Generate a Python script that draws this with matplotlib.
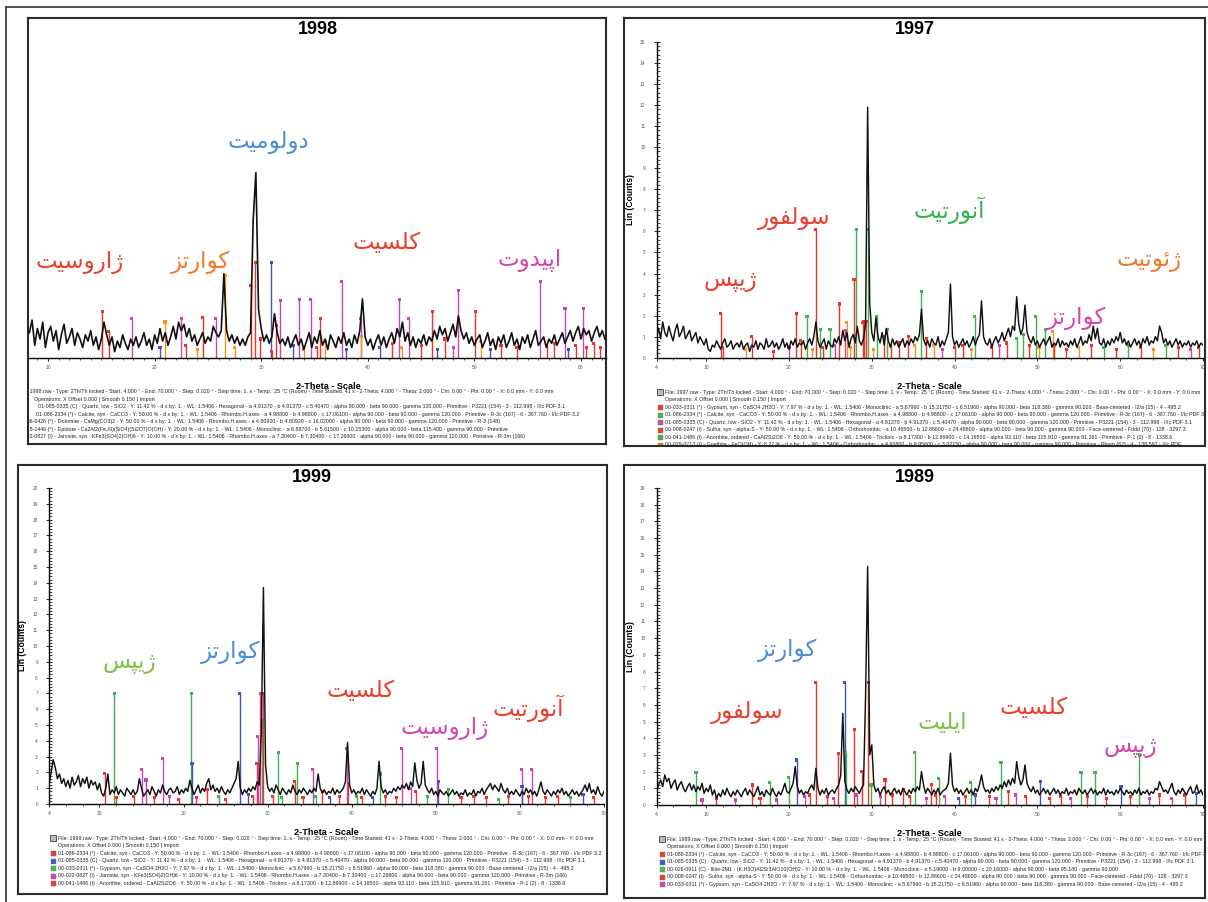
import numpy as np
import matplotlib.pyplot as plt
from matplotlib.lines import Line2D
from matplotlib.ticker import MultipleLocator, AutoMinorLocator, FixedLocator

plt.rcParams['font.family'] = ['Liberation Sans', 'DejaVu Sans']

W, H = 1208, 902

# ---------------- data ----------------
years = ["1998", "1997", "1999", "1989"]
scan_step = 0.25
scan_start = {"1998": 8.25, "1997": 4.0, "1999": 4.0, "1989": 4.0}

counts_1998 = [
    1.2, 1.8, 0.6, 1.4, 0.9, 1.7, 0.5, 1.2, 1.5, 0.8, 1.3, 0.4, 1.1, 1.6, 0.7, 1.0, 1.4, 0.6, 1.2, 0.9,
    0.5, 1.1, 0.8, 1.3, 0.6, 1.0, 0.4, 0.9, 1.7, 1.1, 0.6, 1.0, 0.3, 0.8, 0.5, 1.1, 0.7, 0.4, 0.9, 0.6,
    1.0, 0.5, 0.8, 1.2, 0.6, 0.9, 0.4, 1.1, 0.7, 1.4, 0.8, 1.2, 0.6, 1.0, 1.5, 0.9, 1.7, 1.3, 1.6, 1.0,
    1.4, 0.8, 1.1, 0.6, 0.9, 1.2, 0.7, 1.0, 0.8, 1.5, 1.2, 1.0, 1.3, 4.0, 1.3, 0.8, 1.1, 0.7, 1.0, 0.6,
    0.9, 0.6, 1.0, 1.2, 6.6, 8.8, 2.3, 1.4, 0.8, 1.1, 0.7, 1.0, 2.1, 1.2, 0.7, 0.9, 0.6, 1.0, 0.5, 0.8,
    1.1, 0.6, 0.9, 0.4, 0.8, 1.2, 0.5, 1.0, 0.7, 1.3, 0.6, 0.9, 0.4, 1.1, 0.8, 0.5, 1.0, 0.7, 1.2, 0.6,
    0.9, 0.5, 1.1, 0.7, 1.3, 2.8, 1.0, 0.6, 0.9, 0.4, 0.8, 1.1, 0.6, 1.0, 0.5, 0.9, 1.2, 0.7, 1.4, 1.0,
    1.7, 0.8, 1.2, 0.6, 1.0, 0.5, 0.9, 0.7, 1.1, 0.6, 1.0, 0.8, 1.3, 0.9, 1.5, 1.1, 1.4, 0.8, 1.2, 1.6,
    1.0, 2.0, 1.3, 0.9, 1.2, 0.7, 1.0, 0.6, 0.9, 1.1, 0.5, 0.8, 1.2, 0.6, 0.9, 0.4, 1.0, 0.7, 1.1, 0.5,
    0.8, 1.2, 0.6, 0.9, 0.4, 1.0, 0.7, 1.1, 0.5, 0.9, 1.3, 0.6, 0.8, 1.0, 0.5, 0.9, 0.7, 1.1, 0.6, 0.9,
    1.2, 0.7, 1.0, 1.3, 0.8, 1.2, 1.5, 0.9, 1.4, 1.1, 1.3, 0.8, 1.2, 1.5, 1.0, 1.3, 0.9,
]

counts_1997 = [
    1.1, 1.4, 0.9, 1.7, 1.2, 1.0, 1.5, 1.1, 0.8, 1.3, 1.6, 1.0, 1.2, 1.5, 0.9, 1.1, 1.3, 0.8, 1.0, 1.2,
    0.7, 1.0, 0.8, 0.6, 0.9, 0.4, 0.3, 0.6, 0.5, 0.8, 0.6, 0.4, 0.7, 0.9, 0.5, 0.6, 0.8, 0.4, 0.6, 0.7,
    0.5, 0.8, 0.4, 0.6, 0.7, 0.3, 0.6, 0.5, 0.8, 0.4, 0.7, 0.6, 0.4, 0.9, 0.5, 0.6, 0.8, 0.5, 0.7, 0.4,
    0.6, 0.9, 0.5, 0.7, 0.4, 0.8, 0.6, 0.9, 0.5, 0.7, 0.6, 0.8, 0.4, 0.7, 0.9, 0.6, 1.0, 1.7, 0.8, 0.5,
    0.7, 0.9, 0.4, 0.8, 0.6, 0.5, 0.9, 0.7, 1.0, 0.6, 1.3, 0.8, 1.2, 0.5, 0.9, 1.1, 0.7, 1.5, 0.8, 0.6,
    0.9, 1.6, 11.9, 2.6, 1.2, 0.8, 1.9, 1.0, 0.7, 1.2, 0.6, 1.4, 0.8, 0.5, 0.9, 0.6, 0.8, 0.5, 0.7, 0.9,
    0.5, 0.8, 0.6, 0.9, 0.7, 1.0, 0.8, 1.1, 2.3, 0.9, 0.6, 0.8, 0.5, 0.9, 0.7, 0.6, 1.0, 0.5, 0.8, 0.6,
    0.9, 1.2, 3.5, 1.0, 0.6, 0.8, 0.5, 0.7, 0.9, 0.6, 0.8, 0.5, 0.7, 1.0, 0.6, 0.9, 1.1, 2.7, 1.0, 0.7,
    0.6, 0.9, 0.5, 0.8, 1.0, 0.7, 0.9, 1.2, 0.8, 1.1, 1.4, 1.0, 1.5, 1.3, 2.9, 1.6, 1.1, 1.4, 2.5, 1.2,
    0.9, 0.7, 1.0, 0.6, 0.8, 0.5, 0.7, 0.9, 0.6, 0.8, 1.0, 0.5, 0.7, 0.6, 0.9, 0.5, 0.8, 0.6, 0.7, 0.5,
    0.8, 0.6, 0.9, 0.5, 0.7, 1.0, 0.6, 0.8, 0.7, 1.1, 0.8, 1.5, 0.9, 1.4, 0.7, 0.6, 0.9, 0.5, 0.8, 0.6,
    0.9, 0.7, 1.0, 0.8, 1.2, 0.7, 0.9, 0.6, 0.8, 0.5, 0.7, 0.9, 0.6, 0.8, 0.5, 0.9, 0.7, 1.0, 0.6, 0.8,
    0.7, 1.0, 0.8, 1.5, 1.2, 0.7, 0.9, 0.6, 0.8, 0.5, 0.7, 0.9, 0.6, 0.8, 0.5, 0.7, 0.6, 0.8, 0.5, 0.7,
    0.6, 0.8, 0.5, 0.7, 0.6,
]

counts_1999 = [
    1.2, 2.0, 2.8, 2.3, 1.6, 1.9, 1.3, 1.6, 1.1, 1.5, 1.0, 1.7, 1.2, 1.4, 1.8, 1.1, 1.6, 1.3, 1.7, 1.0,
    1.5, 1.2, 1.4, 0.9, 1.3, 0.7, 0.5, 1.0, 1.9, 0.6, 0.9, 0.7, 1.1, 0.6, 0.9, 0.7, 0.5, 1.0, 0.8, 0.6,
    0.9, 0.6, 0.8, 1.6, 1.0, 0.5, 0.7, 0.9, 0.6, 1.1, 0.8, 0.5, 0.9, 0.7, 1.2, 0.8, 0.6, 0.9, 1.0, 0.7,
    0.8, 1.1, 0.6, 0.9, 0.7, 1.0, 0.8, 1.5, 1.0, 0.6, 0.9, 1.2, 0.7, 1.0, 0.8, 1.3, 1.6, 0.9, 1.2, 0.8,
    1.0, 0.7, 1.1, 0.8, 0.6, 0.9, 0.7, 1.0, 1.3, 1.6, 2.7, 1.0, 0.6, 0.9, 0.7, 1.0, 0.8, 1.1, 0.9, 1.4,
    1.2, 4.5, 13.7, 2.5, 1.1, 0.8, 1.0, 0.7, 1.2, 0.9, 0.6, 1.0, 0.8, 0.6, 0.9, 0.7, 1.2, 0.8, 0.6, 0.9,
    0.7, 1.0, 0.8, 0.6, 0.9, 0.7, 1.0, 0.8, 1.9, 1.0, 0.7, 0.9, 0.6, 0.8, 0.7, 1.0, 0.6, 0.9, 0.7, 0.8,
    1.0, 1.4, 3.9, 1.2, 0.7, 0.9, 0.6, 0.8, 0.7, 1.0, 0.6, 0.9, 0.7, 0.5, 0.8, 0.6, 1.0, 2.7, 1.1, 0.7,
    0.9, 0.6, 0.8, 0.7, 1.0, 0.8, 1.1, 0.9, 1.2, 1.0, 1.3, 0.9, 1.4, 1.1, 2.6, 1.5, 1.0, 1.3, 2.7, 1.2,
    0.9, 0.7, 1.0, 0.6, 0.8, 0.5, 0.9, 0.7, 0.6, 0.8, 0.5, 0.7, 0.9, 0.6, 0.8, 0.5, 0.7, 0.6, 0.9, 0.5,
    0.7, 0.6, 0.9, 0.5, 0.8, 0.7, 1.0, 0.6, 0.9, 1.1, 1.3, 0.9, 1.2, 1.0, 0.8, 1.3, 0.9, 0.7, 1.0, 0.6,
    0.8, 0.6, 0.9, 0.7, 0.5, 0.8, 0.6, 1.0, 0.7, 0.9, 0.6, 0.8, 0.5, 0.9, 1.4, 0.8, 0.6, 0.9, 0.7, 0.5,
    0.8, 0.6, 0.9, 0.7, 1.0, 0.6, 0.8, 0.5, 0.7, 0.9, 0.6, 0.8, 0.5, 0.7, 0.9, 1.2, 0.8, 1.3, 0.7, 0.9,
    0.6, 1.1, 0.7, 0.5, 0.8,
]

counts_1989 = [
    0.8, 1.2, 1.5, 1.1, 1.8, 1.4, 1.6, 1.0, 1.3, 1.5, 0.9, 1.2, 1.4, 1.0, 0.8, 1.1, 1.3, 0.9, 1.2, 0.8,
    1.1, 0.9, 1.3, 0.7, 1.0, 0.8, 1.2, 0.6, 0.9, 0.4, 0.7, 0.5, 0.9, 0.6, 1.0, 0.7, 0.5, 0.8, 0.6, 0.9,
    0.7, 0.5, 0.8, 1.0, 0.6, 0.9, 0.7, 0.5, 0.8, 1.1, 0.6, 0.8, 0.5, 0.9, 0.7, 0.6, 1.0, 0.7, 0.5, 0.8,
    0.6, 0.9, 1.3, 0.8, 0.7, 1.0, 1.3, 2.3, 1.1, 0.7, 0.9, 0.6, 0.8, 0.7, 1.0, 1.2, 0.9, 2.2, 1.0, 0.6,
    0.9, 0.7, 1.0, 0.6, 0.8, 0.9, 0.7, 1.0, 1.2, 1.8, 5.5, 1.4, 0.9, 0.7, 1.0, 0.8, 1.1, 0.9, 0.7, 1.0,
    1.2, 6.5, 14.3, 3.0, 3.6, 1.2, 0.8, 1.0, 0.6, 0.9, 1.1, 0.7, 0.9, 0.6, 0.8, 1.0, 0.7, 0.9, 0.6, 1.0,
    0.8, 0.6, 0.9, 0.7, 1.0, 0.8, 1.1, 0.9, 2.0, 1.2, 0.7, 1.0, 0.8, 0.6, 0.9, 0.7, 1.0, 0.6, 0.8, 0.9,
    1.0, 1.3, 3.1, 1.2, 0.8, 1.0, 0.7, 0.9, 0.6, 0.8, 1.0, 0.7, 0.9, 0.6, 1.0, 0.8, 1.2, 1.8, 1.1, 0.8,
    0.9, 0.7, 1.0, 0.8, 1.1, 0.9, 1.2, 1.0, 1.4, 1.1, 1.5, 1.2, 1.6, 1.3, 2.6, 1.7, 1.2, 1.5, 2.4, 1.3,
    1.0, 0.8, 1.1, 0.7, 0.9, 0.6, 0.8, 1.0, 0.7, 0.9, 0.6, 0.8, 1.0, 0.7, 0.9, 0.6, 0.8, 0.7, 1.0, 0.6,
    0.8, 0.7, 0.9, 0.6, 1.0, 0.8, 0.7, 0.9, 0.6, 0.8, 1.0, 0.7, 0.9, 0.6, 0.8, 0.7, 1.0, 0.6, 0.9, 0.7,
    0.8, 0.6, 0.9, 0.7, 1.0, 0.8, 0.6, 0.9, 0.7, 0.8, 0.6, 0.9, 0.7, 1.0, 0.6, 0.8, 0.7, 0.9, 0.6, 0.8,
    0.7, 1.0, 0.9, 1.4, 1.1, 0.8, 0.9, 0.7, 1.0, 1.3, 0.8, 0.6, 0.9, 0.7, 1.0, 0.8, 0.6, 0.9, 1.1, 0.7,
    0.8, 1.2, 0.7, 0.9, 0.6,
]

# reference-pattern sticks: 2-theta, relative height, phase colour key
sticks_1998_pos = [15.07, 15.7, 17.86, 20.5, 20.97, 22.49, 22.9, 24.0, 24.5, 25.74, 26.65, 27.5, 29.0, 29.44,
                   29.9, 30.96, 31.0, 31.4, 31.8, 33.0, 33.57, 34.0, 34.63, 35.2, 35.55, 36.0, 37.56, 38.0,
                   39.33, 39.4, 41.1, 42.3, 42.97, 43.2, 43.85, 45.0, 46.04, 46.5, 47.2, 48.0, 48.51, 50.1,
                   50.6, 51.5, 52.5, 54.0, 56.2, 56.8, 57.5, 58.5, 58.8, 59.5, 60.23, 60.5, 61.2, 61.8]
sticks_1998_h = [2.19, 1.27, 1.87, 0.5, 1.71, 1.87, 0.6, 0.4, 1.92, 1.87, 3.9, 0.5, 3.46, 4.54,
                 0.9, 4.54, 0.3, 1.56, 2.75, 0.6, 2.78, 0.4, 2.78, 0.5, 1.87, 0.8, 3.62, 0.4,
                 1.87, 1.0, 0.5, 0.7, 2.78, 0.5, 1.87, 0.6, 2.19, 0.4, 0.9, 0.5, 3.22, 2.19,
                 0.8, 0.4, 0.6, 0.5, 3.62, 0.6, 0.7, 2.35, 0.4, 0.6, 2.35, 0.5, 0.7, 0.5]
sticks_1998_ph = ["r", "r", "m", "b", "o", "m", "r", "o", "r", "m", "o", "o", "r", "r",
                  "r", "b", "r", "r", "m", "b", "m", "o", "m", "r", "r", "o", "m", "b",
                  "m", "o", "b", "r", "m", "o", "m", "r", "r", "b", "r", "m", "m", "r",
                  "o", "b", "r", "r", "m", "r", "r", "m", "b", "r", "m", "r", "r", "r"]

sticks_1997_pos = [11.77, 12.0, 14.8, 15.5, 18.1, 20.0, 20.86, 21.4, 22.18, 22.8, 23.23, 23.8, 24.1, 24.95,
                   25.5, 26.09, 26.8, 27.0, 27.4, 27.85, 28.1, 28.9, 29.0, 29.3, 29.5, 30.2, 30.6, 31.5,
                   31.86, 32.3, 33.3, 34.4, 35.2, 35.95, 36.6, 37.5, 38.5, 40.0, 41.0, 42.0, 42.45, 44.5,
                   45.4, 46.3, 47.5, 48.3, 49.0, 49.8, 50.2, 50.95, 51.86, 52.0, 53.5, 55.0, 56.5, 58.0,
                   59.5, 61.0, 62.5, 64.0, 65.5, 67.0, 68.5, 69.5]
sticks_1997_h = [2.11, 0.5, 0.4, 1.0, 0.3, 0.5, 2.11, 0.8, 1.95, 0.4, 6.1, 1.35, 0.5, 1.35,
                 0.6, 2.55, 1.3, 1.66, 0.5, 3.73, 6.1, 1.66, 1.7, 1.7, 6.1, 0.4, 1.95, 1.0,
                 1.35, 0.6, 0.7, 1.0, 0.6, 3.14, 0.9, 0.6, 0.4, 0.5, 0.6, 0.4, 1.95, 0.5,
                 0.6, 0.7, 0.9, 1.1, 0.6, 1.95, 0.5, 1.35, 1.24, 0.6, 0.4, 0.5, 0.6, 0.5,
                 0.4, 0.6, 0.5, 0.4, 0.6, 0.5, 0.4, 0.5]
sticks_1997_ph = ["r", "r", "o", "r", "r", "m", "r", "r", "g", "o", "r", "g", "r", "g",
                  "m", "r", "m", "o", "o", "r", "g", "r", "r", "r", "g", "o", "g", "r",
                  "g", "r", "r", "r", "o", "g", "r", "o", "m", "r", "r", "o", "g", "r",
                  "m", "r", "g", "g", "r", "g", "o", "g", "o", "r", "r", "o", "r", "g",
                  "r", "g", "r", "o", "g", "r", "m", "r"]

sticks_1999_pos = [10.62, 11.74, 12.0, 14.1, 15.0, 15.54, 16.5, 17.55, 18.3, 19.4, 20.91, 21.0, 21.5, 22.8,
                   24.2, 25.0, 26.7, 27.7, 28.2, 28.74, 28.8, 29.1, 29.28, 29.45, 30.6, 31.25, 31.7, 33.2,
                   33.53, 34.2, 35.36, 35.7, 36.5, 37.4, 38.5, 39.39, 39.6, 40.6, 41.2, 42.5, 43.4, 44.0,
                   45.3, 45.96, 47.0, 47.6, 49.0, 50.13, 50.3, 51.5, 53.0, 54.5, 56.0, 57.5, 58.6, 60.2,
                   60.25, 61.0, 61.4, 63.0, 64.5, 66.0, 67.5, 68.8]
sticks_1999_h = [1.94, 7.0, 0.4, 0.5, 2.2, 1.52, 0.4, 2.9, 0.5, 0.3, 7.0, 2.58, 0.4, 0.9,
                 0.5, 0.3, 7.0, 0.6, 0.5, 2.58, 4.27, 7.0, 5.28, 7.0, 0.5, 3.25, 0.4, 1.4,
                 2.58, 0.4, 2.2, 0.5, 0.8, 0.4, 0.5, 3.53, 1.3, 0.5, 0.4, 0.4, 1.9, 0.5,
                 0.4, 3.53, 1.0, 0.8, 0.5, 3.53, 1.4, 0.9, 0.4, 0.5, 0.4, 0.3, 0.5, 2.2,
                 1.1, 0.5, 2.2, 0.4, 0.5, 0.4, 0.6, 0.4]
sticks_1999_ph = ["r", "g", "r", "r", "m", "m", "r", "m", "m", "r", "g", "b", "r", "r",
                  "g", "r", "b", "b", "r", "r", "m", "m", "g", "r", "r", "g", "g", "r",
                  "g", "r", "m", "g", "r", "b", "r", "m", "r", "g", "r", "b", "g", "r",
                  "r", "m", "m", "r", "g", "m", "b", "g", "r", "r", "r", "g", "r", "m",
                  "b", "r", "m", "r", "r", "g", "b", "r"]

sticks_1989_pos = [8.77, 9.5, 11.2, 13.5, 15.59, 16.5, 17.68, 18.5, 19.96, 20.96, 21.9, 22.5, 23.23, 24.6,
                   25.4, 25.95, 26.73, 26.86, 27.9, 28.2, 28.82, 29.55, 29.9, 31.0, 31.6, 32.5, 33.8, 34.6,
                   35.2, 36.6, 37.2, 37.7, 38.09, 38.8, 40.5, 41.3, 41.96, 42.5, 44.2, 45.0, 45.6, 46.5,
                   47.4, 48.6, 50.36, 51.5, 52.8, 54.0, 55.27, 56.0, 56.96, 58.3, 60.1, 61.2, 62.32, 63.5,
                   64.7, 66.2, 67.8, 69.2]
sticks_1989_h = [1.94, 0.3, 0.4, 0.3, 1.2, 0.4, 1.36, 0.3, 1.64, 2.7, 0.5, 0.6, 7.36, 0.5,
                 0.4, 3.1, 7.36, 3.14, 4.54, 0.6, 2.0, 7.36, 1.2, 0.5, 1.5, 0.6, 0.9, 0.5,
                 3.16, 0.4, 1.24, 0.6, 1.6, 0.5, 0.4, 0.5, 1.36, 0.6, 0.5, 0.4, 2.56, 0.8,
                 0.6, 0.5, 1.4, 0.4, 0.5, 0.4, 1.94, 0.5, 1.94, 0.4, 1.1, 0.5, 3.0, 0.4,
                 0.6, 0.4, 0.6, 0.7]
sticks_1989_ph = ["g", "m", "r", "m", "r", "r", "g", "m", "g", "b", "m", "r", "r", "r",
                  "m", "r", "b", "g", "r", "m", "r", "r", "g", "m", "r", "r", "r", "r",
                  "g", "m", "r", "r", "g", "m", "b", "r", "g", "b", "r", "m", "g", "r",
                  "m", "r", "b", "r", "r", "m", "g", "r", "g", "r", "b", "r", "g", "m",
                  "r", "m", "r", "b"]

minerals_1998 = ["دولومیت", "ژاروسیت", "کوارتز", "کلسیت", "اپیدوت"]
minerals_1997 = ["سولفور", "آنورتیت", "ژیپس", "ژئوتیت", "کوارتز"]
minerals_1999 = ["ژیپس", "کوارتز", "کلسیت", "ژاروسیت", "آنورتیت"]
minerals_1989 = ["کوارتز", "سولفور", "ایلیت", "کلسیت", "ژیپس"]

scan_header = [
    "File: {y}.raw - Type: 2Th/Th locked - Start: 4.000 ° - End: 70.000 ° - Step: 0.020 ° - Step time: 1. s - Temp.: 25 °C (Room) - Time Started: 41 s - 2-Theta: 4.000 ° - Theta: 2.000 ° - Chi: 0.00 ° - Phi: 0.00 ° - X: 0.0 mm - Y: 0.0 mm",
    "Operations: X Offset 0.000 | Smooth 0.150 | Import",
]
pdf_cards = {
    "calcite": "01-086-2334 (*) - Calcite, syn - CaCO3 - Y: 50.00 % - d x by: 1. - WL: 1.5406 - Rhombo.H.axes - a 4.98800 - b 4.98800 - c 17.06100 - alpha 90.000 - beta 90.000 - gamma 120.000 - Primitive - R-3c (167) - 6 - 367.760 - I/Ic PDF 3.2",
    "quartz": "01-085-0335 (C) - Quartz, low - SiO2 - Y: 11.42 % - d x by: 1. - WL: 1.5406 - Hexagonal - a 4.91370 - b 4.91370 - c 5.40470 - alpha 90.000 - beta 90.000 - gamma 120.000 - Primitive - P3221 (154) - 3 - 112.998 - I/Ic PDF 3.1",
    "gypsum": "00-033-0311 (*) - Gypsum, syn - CaSO4·2H2O - Y: 7.97 % - d x by: 1. - WL: 1.5406 - Monoclinic - a 5.67960 - b 15.21750 - c 6.51960 - alpha 90.000 - beta 118.380 - gamma 90.000 - Base-centered - I2/a (15) - 4 - 495.2",
    "sulfur": "00-008-0247 (I) - Sulfur, syn - alpha-S - Y: 50.00 % - d x by: 1. - WL: 1.5406 - Orthorhombic - a 10.46500 - b 12.86600 - c 24.48600 - alpha 90.000 - beta 90.000 - gamma 90.000 - Face-centered - Fddd (70) - 128 - 3297.3",
    "anorthite": "00-041-1486 (I) - Anorthite, ordered - CaAl2Si2O8 - Y: 50.00 % - d x by: 1. - WL: 1.5406 - Triclinic - a 8.17300 - b 12.86900 - c 14.16500 - alpha 93.110 - beta 115.910 - gamma 91.261 - Primitive - P-1 (2) - 8 - 1338.6",
    "goethite": "00-029-0713 (I) - Goethite - FeO(OH) - Y: 8.27 % - d x by: 1. - WL: 1.5406 - Orthorhombic - a 4.60800 - b 9.95600 - c 3.02150 - alpha 90.000 - beta 90.000 - gamma 90.000 - Primitive - Pbnm (62) - 4 - 138.597 - I/Ic PDF",
    "jarosite": "00-022-0827 (I) - Jarosite, syn - KFe3(SO4)2(OH)6 - Y: 10.00 % - d x by: 1. - WL: 1.5406 - Rhombo.H.axes - a 7.30400 - b 7.30400 - c 17.26800 - alpha 90.000 - beta 90.000 - gamma 120.000 - Primitive - R-3m (166)",
    "illite": "00-026-0911 (C) - Illite-2M1 - (K,H3O)Al2Si3AlO10(OH)2 - Y: 10.00 % - d x by: 1. - WL: 1.5406 - Monoclinic - a 5.19000 - b 9.00000 - c 20.16000 - alpha 90.000 - beta 95.180 - gamma 90.000",
    "dolomite": "00-036-0426 (*) - Dolomite - CaMg(CO3)2 - Y: 50.00 % - d x by: 1. - WL: 1.5406 - Rhombo.H.axes - a 4.80920 - b 4.80920 - c 16.02000 - alpha 90.000 - beta 90.000 - gamma 120.000 - Primitive - R-3 (148)",
    "epidote": "00-045-1446 (*) - Epidote - Ca2Al2(Fe,Al)(SiO4)(Si2O7)O(OH) - Y: 20.00 % - d x by: 1. - WL: 1.5406 - Monoclinic - a 8.88700 - b 5.61500 - c 10.15300 - alpha 90.000 - beta 115.400 - gamma 90.000 - Primitive",
}
cards_1998 = ["quartz", "calcite", "dolomite", "epidote", "jarosite"]
cards_1997 = ["gypsum", "calcite", "quartz", "sulfur", "anorthite", "goethite"]
cards_1999 = ["calcite", "quartz", "gypsum", "jarosite", "anorthite"]
cards_1989 = ["calcite", "quartz", "illite", "sulfur", "gypsum"]

# ---------------- styling / layout ----------------
COUNTS = {"1998": counts_1998, "1997": counts_1997, "1999": counts_1999, "1989": counts_1989}
STICKS = {
    "1998": (sticks_1998_pos, sticks_1998_h, sticks_1998_ph),
    "1997": (sticks_1997_pos, sticks_1997_h, sticks_1997_ph),
    "1999": (sticks_1999_pos, sticks_1999_h, sticks_1999_ph),
    "1989": (sticks_1989_pos, sticks_1989_h, sticks_1989_ph),
}
MINERALS = {"1998": minerals_1998, "1997": minerals_1997, "1999": minerals_1999, "1989": minerals_1989}
CARDS = {"1998": cards_1998, "1997": cards_1997, "1999": cards_1999, "1989": cards_1989}

STICK_COLORS = {"r": "#ec3526", "m": "#cc44b4", "o": "#f79420", "b": "#4650c4", "g": "#3db54a"}
RED, BLUE, ORANGE, MAG, GREEN, LGREEN = "#ea3f2b", "#4a8ed6", "#f17a2a", "#d446a8", "#2fb34f", "#7cc243"

CARD_COLORS = {
    "1997": [RED, "#4cbb4c", MAG, "#e8452c", "#3db54a", ORANGE],
    "1999": [RED, "#4455cc", "#4cbb4c", MAG, RED],
    "1989": [RED, "#4455cc", "#4cbb4c", RED, MAG],
}

# pixel layout: frame box, axes box, x range, y range
PANELS = {
    "1998": dict(frame=(28, 18, 606, 444), axes=(28, 42, 606, 358), xlim=(8.12, 62.35), ytop=15,
                 yaxis=False, xticks=[10, 20, 30, 40, 50, 60], minor=1, title=(318, 30), xlab_x=0.52,
                 legend_y=392, legend_x=[18, 34, 38, 36, 16, 16, 16], marker_x=None),
    "1997": dict(frame=(624, 18, 1205, 446), axes=(656.5, 42, 1203, 357.7), xlim=(4, 70), ytop=15,
                 yaxis=True, xticks=[4, 10, 20, 30, 40, 50, 60, 70], minor=2, title=(915, 30), xlab_x=0.5,
                 legend_y=392.3, legend_x=665, marker_x=659.5),
    "1999": dict(frame=(18, 465, 607, 894), axes=(49, 488, 604, 804), xlim=(4, 70), ytop=20,
                 yaxis=True, xticks=[4, 10, 20, 30, 40, 50, 60, 70], minor=2, title=(312, 477), xlab_x=0.5,
                 legend_y=838.3, legend_x=58, marker_x=53),
    "1989": dict(frame=(624, 465, 1205, 898), axes=(656.5, 488, 1203, 805), xlim=(4, 70), ytop=19,
                 yaxis=True, xticks=[4, 10, 20, 30, 40, 50, 60, 70], minor=2, title=(915, 477), xlab_x=0.5,
                 legend_y=839.3, legend_x=667, marker_x=662),
}

LABELS = {
    "1998": [((268, 143), BLUE), ((80, 262), RED), ((201, 262), ORANGE), ((387, 242), RED), ((530, 260), MAG)],
    "1997": [((794, 218), RED), ((949, 210), GREEN), ((730, 280), RED), ((1149, 260), ORANGE), ((1077, 318), MAG)],
    "1999": [((129, 663), LGREEN), ((231, 652), BLUE), ((361, 690), RED), ((445, 728), MAG), ((528, 708), RED)],
    "1989": [((788, 650), BLUE), ((747, 712), RED), ((942, 722), LGREEN), ((1034, 707), RED), ((1130, 747), MAG)],
}

# Arabic-script presentation forms (isolated, final, initial, medial)
FORMS = {
    "ا": "\uFE8D\uFE8E", "آ": "\uFE81\uFE82", "د": "\uFEA9\uFEAA", "ر": "\uFEAD\uFEAE",
    "ز": "\uFEAF\uFEB0", "ژ": "\uFB8A\uFB8B", "و": "\uFEED\uFEEE",
    "ئ": "\uFE89\uFE8A\uFE8B\uFE8C", "ت": "\uFE95\uFE96\uFE97\uFE98", "س": "\uFEB1\uFEB2\uFEB3\uFEB4",
    "ف": "\uFED1\uFED2\uFED3\uFED4", "ل": "\uFEDD\uFEDE\uFEDF\uFEE0", "م": "\uFEE1\uFEE2\uFEE3\uFEE4",
    "ن": "\uFEE5\uFEE6\uFEE7\uFEE8", "ک": "\uFB8E\uFB8F\uFB90\uFB91", "ی": "\uFBFC\uFBFD\uFBFE\uFBFF",
    "پ": "\uFB56\uFB57\uFB58\uFB59",
}


def shape_fa(word):
    out = []
    for i, ch in enumerate(word):
        forms = FORMS[ch]
        prev_join = i > 0 and len(FORMS[word[i - 1]]) == 4
        next_join = i < len(word) - 1 and len(forms) == 4
        if prev_join and next_join:
            out.append(forms[3])
        elif prev_join:
            out.append(forms[1])
        elif next_join:
            out.append(forms[2])
        else:
            out.append(forms[0])
    return "".join(reversed(out))


def rect(x0, y0, x1, y1):
    return [x0 / W, 1 - y1 / H, (x1 - x0) / W, (y1 - y0) / H]


fig = plt.figure(figsize=(W / 100, H / 100), dpi=100)

# outer frame (left and top edges)
fig.add_artist(Line2D([6 / W, 6 / W], [0, 1 - 7 / H], color="#333333", lw=1.2))
fig.add_artist(Line2D([6 / W, 1], [1 - 7 / H, 1 - 7 / H], color="#333333", lw=1.2))

for year in years:
    p = PANELS[year]
    fx0, fy0, fx1, fy1 = p["frame"]

    frame = fig.add_axes(rect(*p["frame"]), zorder=0)
    frame.set_xlim(0, 1)
    frame.set_ylim(0, 1)
    frame.set_xticks([])
    frame.set_yticks([])
    for s in frame.spines.values():
        s.set_linewidth(1.5)
        s.set_color("#2b2b2b")

    # legend block under the plot
    lines = [scan_header[0].format(y=year), scan_header[1]] + [pdf_cards[c] for c in CARDS[year]]
    for i, txt in enumerate(lines):
        ypx = p["legend_y"] + i * 7.5
        if isinstance(p["legend_x"], list):
            xpx = p["legend_x"][i]
        else:
            xpx = p["legend_x"]
        yy = 1 - (ypx - fy0) / (fy1 - fy0)
        frame.text((xpx - fx0) / (fx1 - fx0), yy, txt, fontsize=3.8, color="#222222",
                   ha="left", va="center", clip_on=True)
        if p["marker_x"] is not None:
            mx = (p["marker_x"] - fx0) / (fx1 - fx0)
            if i == 0:
                frame.plot(mx, yy, "s", ms=4.2, mfc="#bbbbbb", mec="#444444", mew=0.6)
            elif i >= 2:
                frame.plot(mx, yy, "s", ms=3.6, mfc=CARD_COLORS[year][i - 2], mec="#777777", mew=0.3)

    # diffractogram axes
    ax = fig.add_axes(rect(*p["axes"]), zorder=1)
    ax.set_facecolor("none")
    counts = COUNTS[year]
    two_theta = scan_start[year] + scan_step * np.arange(len(counts))

    pos, hts, phs = STICKS[year]
    cols = [STICK_COLORS[k] for k in phs]
    ax.vlines(pos, 0, hts, colors=cols, lw=1.0, zorder=2)
    ax.scatter(pos, hts, marker="s", s=5, c=cols, linewidths=0, zorder=2)
    ax.plot(two_theta, counts, color="#111111", lw=1.2 if year == "1998" else 1.05, zorder=3)

    ax.set_xlim(*p["xlim"])
    ax.set_ylim(0, p["ytop"])
    for side in ("top", "right"):
        ax.spines[side].set_visible(False)
    ax.spines["bottom"].set_linewidth(1.0)
    ax.xaxis.set_major_locator(FixedLocator(p["xticks"]))
    ax.xaxis.set_minor_locator(MultipleLocator(p["minor"]))
    ax.tick_params(axis="x", which="major", direction="out", length=2.5, width=0.6,
                   labelsize=3.6, labelcolor="#555555", pad=2.5)
    ax.tick_params(axis="x", which="minor", direction="out", length=1.5, width=0.5)
    ax.set_xlabel("2-Theta - Scale", fontsize=6.6, fontweight="bold")
    ax.xaxis.set_label_coords(p["xlab_x"], -24 / ((p["axes"][3] - p["axes"][1])))

    if p["yaxis"]:
        ax.spines["left"].set_linewidth(1.0)
        ax.yaxis.set_major_locator(MultipleLocator(1))
        ax.yaxis.set_minor_locator(AutoMinorLocator(5))
        ax.tick_params(axis="y", which="major", direction="inout", length=4, width=0.6,
                       labelsize=3.4, labelcolor="#555555", pad=6)
        ax.tick_params(axis="y", which="minor", direction="in", length=2, width=0.5)
        ax.set_ylabel("Lin (Counts)", fontsize=6.2, fontweight="bold")
        ax.yaxis.set_label_coords(-0.039, 0.5)
    else:
        ax.spines["left"].set_visible(False)
        ax.set_yticks([])

    tx, ty = p["title"]
    fig.text(tx / W, 1 - ty / H, year, fontsize=13, fontweight="bold", ha="center", va="center")

    for word, ((lx, ly), col) in zip(MINERALS[year], LABELS[year]):
        fig.text(lx / W, 1 - ly / H, shape_fa(word), fontsize=16.5, color=col, family="DejaVu Sans",
                 ha="center", va="center", zorder=5)

fig.savefig("out.png", dpi=100)
